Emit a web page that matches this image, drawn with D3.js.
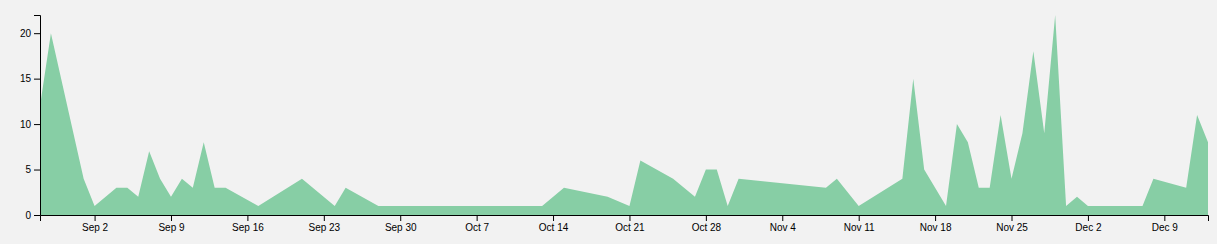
<!DOCTYPE html>
<html>
<head>
<meta charset="utf-8">
<script src="https://cdnjs.cloudflare.com/ajax/libs/d3/7.8.5/d3.min.js"></script>
<style>
  html, body { margin: 0; padding: 0; background: #f2f2f2; }
  svg { display: block; }
  .tick text { font-family: "Liberation Sans", Arial, sans-serif; }
</style>
</head>
<body>
<div id="chart"></div>
<script>
// données (2018)
const dates = [
  "2018-08-28", "2018-08-29", "2018-09-01", "2018-09-02", "2018-09-04", "2018-09-05",
  "2018-09-06", "2018-09-07", "2018-09-08", "2018-09-09", "2018-09-10", "2018-09-11",
  "2018-09-12", "2018-09-13", "2018-09-14", "2018-09-17", "2018-09-21", "2018-09-24",
  "2018-09-25", "2018-09-28", "2018-10-13", "2018-10-15", "2018-10-19", "2018-10-21",
  "2018-10-22", "2018-10-25", "2018-10-27", "2018-10-28", "2018-10-29", "2018-10-30",
  "2018-10-31", "2018-11-08", "2018-11-09", "2018-11-11", "2018-11-15", "2018-11-16",
  "2018-11-17", "2018-11-19", "2018-11-20", "2018-11-21", "2018-11-22", "2018-11-23",
  "2018-11-24", "2018-11-25", "2018-11-26", "2018-11-27", "2018-11-28", "2018-11-29",
  "2018-11-30", "2018-12-01", "2018-12-02", "2018-12-07", "2018-12-08", "2018-12-11",
  "2018-12-12", "2018-12-13"
];
const counts = [
  12, 20, 4, 1, 3, 3,
  2, 7, 4, 2, 4, 3,
  8, 3, 3, 1, 4, 1,
  3, 1, 1, 3, 2, 1,
  6, 4, 2, 5, 5, 1,
  4, 3, 4, 1, 4, 15,
  5, 1, 10, 8, 3, 3,
  11, 4, 9, 18, 9, 22,
  1, 2, 1, 1, 4, 3,
  11, 8
];
const yTicks = [0, 5, 10, 15, 20];

const margin = {top: 15, right: 9, bottom: 29, left: 40};
const width = 1217 - margin.left - margin.right,
      height = 244 - margin.top - margin.bottom;

const parse = d3.utcParse("%Y-%m-%d");
const data = dates.map((d, i) => ({date: parse(d), value: counts[i]}));

const svg = d3.select("#chart")
    .append("svg")
    .attr("width", width + margin.left + margin.right)
    .attr("height", height + margin.top + margin.bottom)
  .append("g")
    .attr("transform", `translate(${margin.left},${margin.top})`);

const x = d3.scaleUtc()
    .domain(d3.extent(data, d => d.date))
    .range([0, width]);

const y = d3.scaleLinear()
    .domain([0, d3.max(data, d => d.value)])
    .range([height, 0]);

const area = d3.area()
    .x(d => x(d.date))
    .y0(height)
    .y1(d => y(d.value));

svg.append("path")
    .datum(data)
    .attr("fill", "#87cea5")
    .attr("d", area);

svg.append("g")
    .attr("transform", `translate(0,${height})`)
    .call(d3.axisBottom(x).ticks(d3.utcWeek.every(1)).tickFormat(d3.utcFormat("%b %-d")));

svg.append("g")
    .call(d3.axisLeft(y).tickValues(yTicks));
</script>
</body>
</html>
